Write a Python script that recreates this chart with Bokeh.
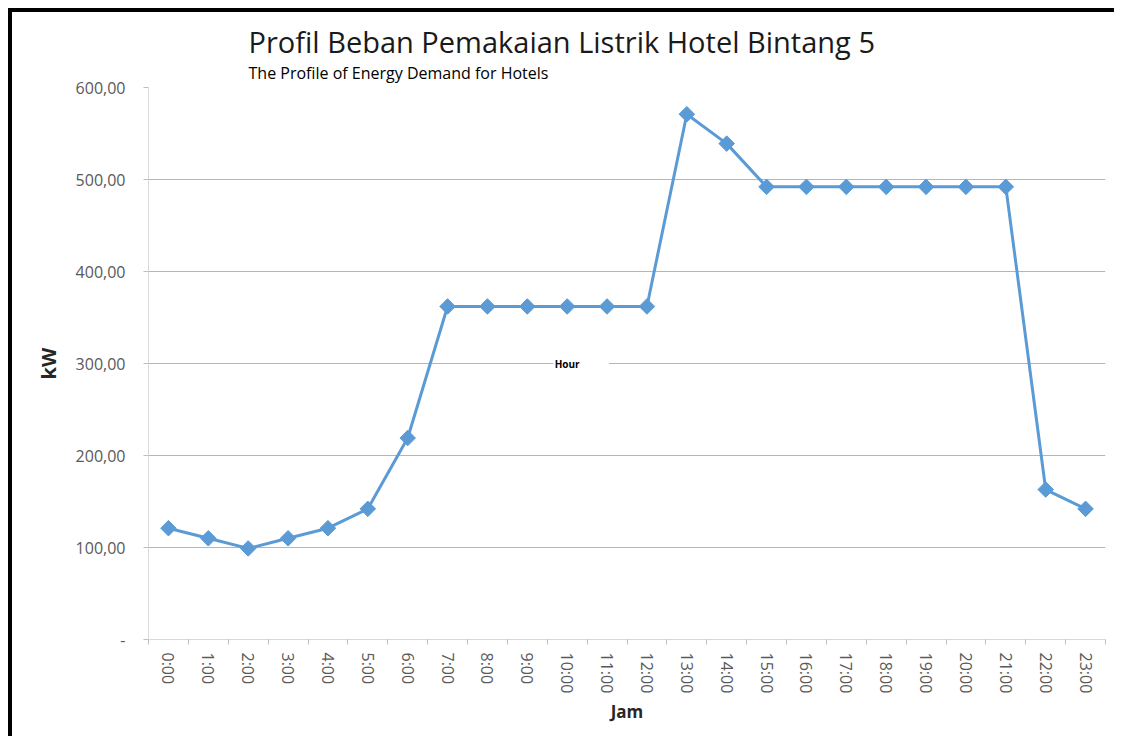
import math
from bokeh.plotting import figure
from bokeh.models import FixedTicker, Title, Label, BoxAnnotation, Range1d
from bokeh.embed import file_html
from bokeh.resources import INLINE

# ---- data ----
hours = ["0:00", "1:00", "2:00", "3:00", "4:00", "5:00", "6:00", "7:00",
         "8:00", "9:00", "10:00", "11:00", "12:00", "13:00", "14:00", "15:00",
         "16:00", "17:00", "18:00", "19:00", "20:00", "21:00", "22:00", "23:00"]
load_kw = [121, 110, 99, 110, 121, 142, 219, 362,
           362, 362, 362, 362, 362, 571, 539, 492,
           492, 492, 492, 492, 492, 492, 163, 142]
y_ticks = [0, 100, 200, 300, 400, 500, 600]
y_tick_labels = ["-", "100,00", "200,00", "300,00", "400,00", "500,00", "600,00"]

title_text = "Profil Beban Pemakaian Listrik Hotel Bintang 5"
subtitle_text = "The Profile of Energy Demand for Hotels"
FONT = "Open Sans"

xs = [i + 0.5 for i in range(len(hours))]

p = figure(frame_width=957, frame_height=552,
           x_range=Range1d(0, len(hours)), y_range=Range1d(0, 600),
           output_backend="svg", toolbar_location=None,
           min_border_left=136, min_border_right=9,
           min_border_top=75, min_border_bottom=97)
p.margin = (8, 0, 0, 8)
p.styles = {"border-left": "4px solid black", "border-top": "4px solid black"}
p.outline_line_color = None
p.background_fill_color = "white"
p.border_fill_color = "white"

# titles (default title = main title; added title sits closer to the frame)
p.title.text = title_text
p.title.align = "left"
p.title.offset = 100
p.title.text_font = FONT
p.title.text_font_size = "29px"
p.title.text_font_style = "normal"
p.title.text_color = "#1a1a1a"
p.title.standoff = -8
sub = Title(text=subtitle_text, align="left", offset=100, text_font=FONT,
            text_font_size="16px", text_font_style="normal", text_color="#000000",
            standoff=7)
p.add_layout(sub, "above")

# data
p.line(xs, load_kw, line_color="#5B9BD5", line_width=3)
p.scatter(xs, load_kw, marker="square", angle=math.pi / 4, size=11,
          fill_color="#5B9BD5", line_color="#5B9BD5")

# x axis
p.xaxis.ticker = FixedTicker(ticks=xs, minor_ticks=list(range(len(hours) + 1)))
p.xaxis.major_label_overrides = {x: h for x, h in zip(xs, hours)}
p.xaxis.major_label_orientation = "vertical"
p.xaxis.major_tick_line_color = None
p.xaxis.major_tick_out = 5
p.xaxis.major_tick_in = 0
p.xaxis.minor_tick_line_color = "#bfbfbf"
p.xaxis.minor_tick_out = 5
p.xaxis.minor_tick_in = 0
p.xaxis.axis_line_color = "#d9d9d9"
p.xaxis.major_label_standoff = 8
p.xaxis.major_label_text_font = FONT
p.xaxis.major_label_text_font_size = "16px"
p.xaxis.major_label_text_color = "#595959"
p.xaxis.axis_label = "Jam"
p.xaxis.axis_label_text_font = FONT
p.xaxis.axis_label_text_font_size = "17px"
p.xaxis.axis_label_text_font_style = "bold"
p.xaxis.axis_label_text_color = "#262626"
p.xaxis.axis_label_standoff = 4

# y axis
p.yaxis.ticker = FixedTicker(ticks=y_ticks, minor_ticks=[])
p.yaxis.major_label_overrides = dict(zip(y_ticks, y_tick_labels))
p.yaxis.major_tick_out = 5
p.yaxis.major_tick_in = 0
p.yaxis.major_tick_line_color = "#bfbfbf"
p.yaxis.minor_tick_line_color = None
p.yaxis.axis_line_color = "#d9d9d9"
p.yaxis.major_label_standoff = 18
p.yaxis.major_label_text_font = FONT
p.yaxis.major_label_text_font_size = "16px"
p.yaxis.major_label_text_color = "#595959"
p.yaxis.axis_label = "kW"
p.yaxis.axis_label_text_font = FONT
p.yaxis.axis_label_text_font_size = "20px"
p.yaxis.axis_label_text_font_style = "bold"
p.yaxis.axis_label_text_color = "#262626"
p.yaxis.axis_label_standoff = 11

p.xgrid.grid_line_color = None
p.ygrid.ticker = FixedTicker(ticks=y_ticks[1:], minor_ticks=[])
p.ygrid.grid_line_color = "#b5b5b5"
p.ygrid.grid_line_width = 1

# "Hour" floating label with white box
p.add_layout(BoxAnnotation(left=10.15, right=11.55, bottom=295, top=305,
                           fill_color="white", fill_alpha=1.0, line_color=None))
p.add_layout(Label(x=10.5, y=300, text="Hour", text_align="center",
                   text_baseline="middle", text_font=FONT, text_font_size="10px",
                   text_font_style="bold", text_color="#000000"))

open("out.html", "w").write(file_html(p, INLINE))
